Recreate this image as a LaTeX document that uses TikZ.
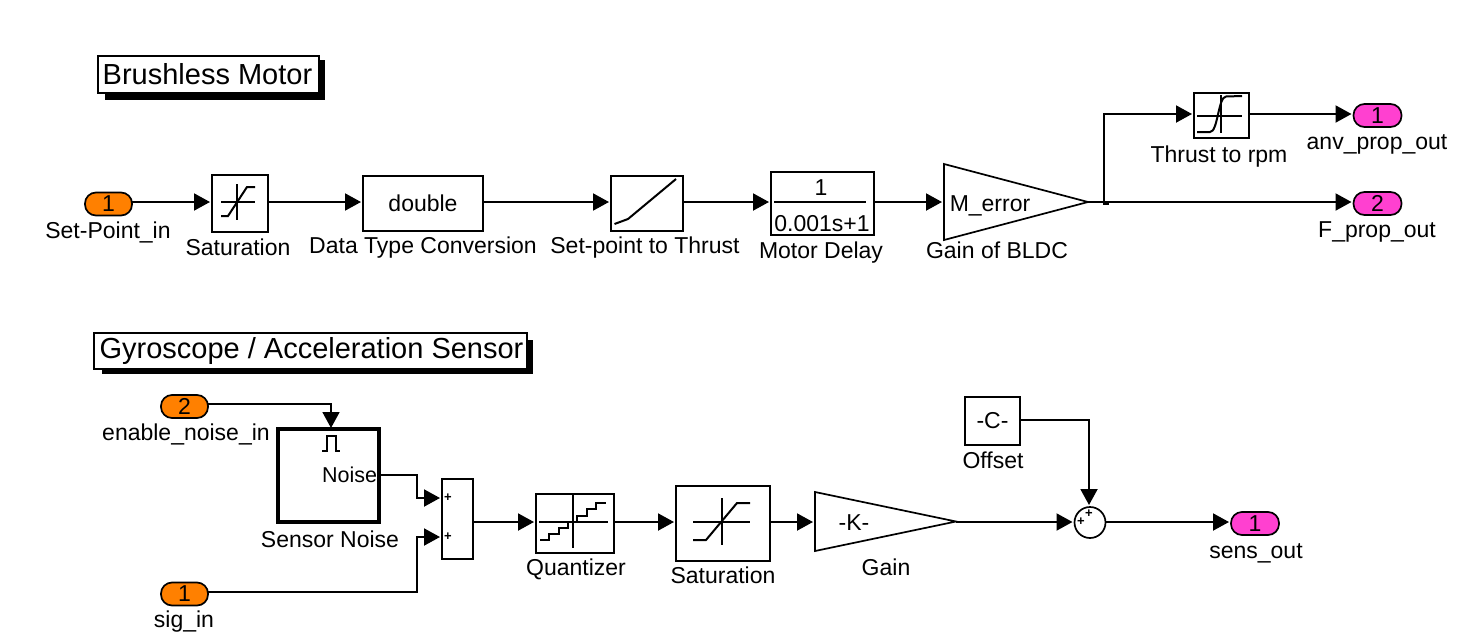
\documentclass[tikz,border=0pt]{standalone}
\usepackage{fontspec}
\setmainfont{Liberation Sans}
\usetikzlibrary{arrows.meta}
\tikzset{
  x=1pt,y=-1pt,
  blk/.style={draw=black,line width=2pt,fill=white,rectangle,inner sep=0pt,outer sep=0pt,font=\fontsize{23}{26}\selectfont},
  ghost/.style={rectangle,inner sep=0pt,outer sep=0pt},
  inport/.style={draw=black,line width=1.7pt,fill=portorange,rounded corners=11pt,minimum width=47pt,minimum height=23pt,inner sep=0pt,outer sep=0pt,font=\fontsize{23}{26}\selectfont},
  outport/.style={draw=black,line width=1.7pt,fill=portpink,rounded corners=11pt,minimum width=48pt,minimum height=23pt,inner sep=0pt,outer sep=0pt,font=\fontsize{23}{26}\selectfont},
  lab/.style={anchor=base,inner sep=0pt,font=\fontsize{23}{26}\selectfont},
  ttl/.style={draw=black,line width=2pt,fill=white,rectangle,inner sep=0pt,outer sep=0pt,font=\fontsize{29}{32}\selectfont},
  shd/.style={fill=black,draw=none},
  sig/.style={line width=2pt,-{Triangle[length=16pt,width=17pt]},shorten >=2pt},
  wire/.style={line width=2pt},
  ico/.style={line width=2pt},
  plusm/.style={anchor=center,inner sep=0pt,font=\fontsize{13}{13}\bfseries\selectfont},
}
\definecolor{portorange}{HTML}{FF8000}
\definecolor{portpink}{HTML}{FF40D0}
\begin{document}
\begin{tikzpicture}
\useasboundingbox (0,0) rectangle (1463,640);
\fill[white] (0,0) rectangle (1463,640);
% row references
\coordinate (r1) at (0,202);
\coordinate (r1b) at (0,114);
\coordinate (r2) at (0,522);
% titles
\fill[shd] (105,60) rectangle (325,100);
\node[ttl,minimum width=221pt,minimum height=37pt] (title1) at (208.5,74.5) {\hspace{-2pt}Brushless Motor};
\fill[shd] (102,340) rectangle (533,374);
\node[ttl,minimum width=433pt,minimum height=36pt] (title2) at (310.5,351) {\hspace{2pt}Gyroscope / Acceleration Sensor};
% top row blocks
\node[inport] (in1) at (108.5,204) {1};
\node[lab] (l1) at (108,238) {Set-Point\_in};
\node[blk,minimum width=56pt,minimum height=57pt] (sat1) at (240,203.5) {};
\draw[ico] (237,184) -- (237,220) (221,202) -- (255,202);
\draw[ico] (221,216) -- (228,216) -- (247,187) -- (255,187);
\node[lab] (l2) at (238,255) {Saturation};
\node[blk,minimum width=120pt,minimum height=55pt] (dtc) at (423,203.5) {double};
\node[lab] (l3) at (423,253) {Data Type Conversion};
\node[blk,minimum width=72pt,minimum height=55pt] (stt) at (647,203.5) {};
\draw[ico] (614.5,224) -- (628,219) -- (676,179);
\node[lab] (l4) at (645,253) {Set-point to Thrust};
\node[blk,minimum width=103pt,minimum height=63pt] (delay) at (822.5,203.5) {};
\draw[ico] (774,202) -- (866,202);
\node[lab] (dnum) at (821,195) {1};
\node[lab] (dden) at (822,231) {0.001s+1};
\node[lab] (l5) at (821,258) {Motor Delay};
\node[ghost,minimum width=144pt,minimum height=76pt] (gain1) at (1016,202) {};
\draw[line width=1.7pt,fill=white] (gain1.north west) -- (gain1.east) -- (gain1.south west) -- cycle;
\node[lab] (gt1) at (990,211) {M\_error};
\node[lab] (l6) at (997,258) {Gain of BLDC};
\node[blk,minimum width=55pt,minimum height=45pt] (rpm) at (1221.5,115.5) {};
\draw[ico] (1221,95) -- (1221,133) (1197,116) -- (1242,116);
\draw[ico] (1197,132) -- (1210,132) .. controls (1218,132) and (1218,97) .. (1226,96.5) -- (1242,96);
\node[lab] (l7) at (1219,162) {Thrust to rpm};
\node[outport] (out1) at (1377.5,115.5) {1};
\node[lab] (l8) at (1377,149) {anv\_prop\_out};
\node[outport] (out2) at (1377.5,203.5) {2};
\node[lab] (l9) at (1377,237) {F\_prop\_out};
% top row connectors
\draw[sig] (in1.east |- r1) -- (sat1.west |- r1);
\draw[sig] (sat1.east |- r1) -- (dtc.west |- r1);
\draw[sig] (dtc.east |- r1) -- (stt.west |- r1);
\draw[sig] (stt.east |- r1) -- (delay.west |- r1);
\draw[sig] (delay.east |- r1) -- (gain1.west |- r1);
\draw[sig] (gain1.east |- r1) -- (out2.west |- r1);
\coordinate (branch) at (1104,202);
\fill (1103,201) rectangle (1109,205);
\draw[sig] (branch) -- (branch |- r1b) -- (rpm.west |- r1b);
\draw[sig] (rpm.east |- r1b) -- (out1.west |- r1b);
% bottom blocks
\node[inport] (in2) at (184.5,406.5) {2};
\node[lab] (l10) at (186,440) {enable\_noise\_in};
\node[inport] (in3) at (184.5,594) {1};
\node[lab] (l11) at (184,627) {sig\_in};
\node[blk,line width=3.2pt,minimum width=101pt,minimum height=93pt] (noise) at (328.5,475.5) {};
\draw[ico] (322,451) -- (327,451) -- (327,436) -- (336,436) -- (336,451) -- (340,451);
\node[lab,anchor=base west,font=\fontsize{21.5}{26}\selectfont] (nt) at (322,482) {Noise};
\node[lab] (l12) at (330,547) {Sensor Noise};
\node[blk,minimum width=31pt,minimum height=80pt] (sum1) at (457.5,519) {};
\node[plusm] (p1) at (448,498) {+};
\node[plusm] (p2) at (448,537) {+};
\node[blk,minimum width=78pt,minimum height=59pt] (quant) at (575,523.5) {};
\draw[ico] (573,494) -- (573,548) (539,522) -- (608,522);
\draw[ico] (540,540) -- (549.3,540) -- (549.3,534) -- (558.7,534) -- (558.7,528) -- (568.3,528) -- (568.3,522) -- (577.3,522) -- (577.3,516) -- (586.7,516) -- (586.7,509.3) -- (596,509.3) -- (596,502.7) -- (605.7,502.7);
\node[lab] (l13) at (576,575) {Quantizer};
\node[blk,minimum width=94pt,minimum height=75pt] (sat2) at (723,523.5) {};
\draw[ico] (722,498) -- (722,545) (693,522) -- (750,522);
\draw[ico] (693,540) -- (706,540) -- (737,503) -- (750,503);
\node[lab] (l14) at (723,583) {Saturation};
\node[ghost,minimum width=141pt,minimum height=59pt] (gain2) at (885.5,521.5) {};
\draw[line width=1.7pt,fill=white] (gain2.north west) -- (gain2.east) -- (gain2.south west) -- cycle;
\node[lab] (gt2) at (854,530) {-K-};
\node[lab] (l15) at (886,575) {Gain};
\node[blk,minimum width=55pt,minimum height=48pt] (offs) at (992.5,421) {-C-};
\node[lab] (l16) at (993,468) {Offset};
\node[draw=black,line width=1.7pt,fill=white,circle,minimum size=31pt,inner sep=0pt,outer sep=0pt] (sum2) at (1090,522.5) {};
\node[plusm] (p3) at (1081,522) {+};
\node[plusm] (p4) at (1089,514) {+};
\node[outport] (out3) at (1255,523.5) {1};
\node[lab] (l17) at (1256,558) {sens\_out};
% bottom connectors
\coordinate (en) at (331,404);
\coordinate (no1) at (417,475);
\coordinate (no2) at (417,498);
\coordinate (sg1) at (417,592);
\coordinate (sg2) at (417,537);
\coordinate (of1) at (1089,420);
\draw[sig,line width=1.7pt,shorten >=1pt] (in2.east |- en) -- (en) -- (noise.north -| en);
\draw[sig] (noise.east |- no1) -- (no1) -- (no2) -- (sum1.west |- no2);
\draw[sig] (in3.east |- sg1) -- (sg1) -- (sg2) -- (sum1.west |- sg2);
\draw[sig] (sum1.east |- r2) -- (quant.west |- r2);
\draw[sig] (quant.east |- r2) -- (sat2.west |- r2);
\draw[sig] (sat2.east |- r2) -- (gain2.west |- r2);
\draw[sig] (gain2.east |- r2) -- (sum2.west |- r2);
\draw[sig] (sum2.east |- r2) -- (out3.west |- r2);
\draw[sig] (offs.east |- of1) -- (of1) -- (of1 |- sum2.north);
\end{tikzpicture}
\end{document}
